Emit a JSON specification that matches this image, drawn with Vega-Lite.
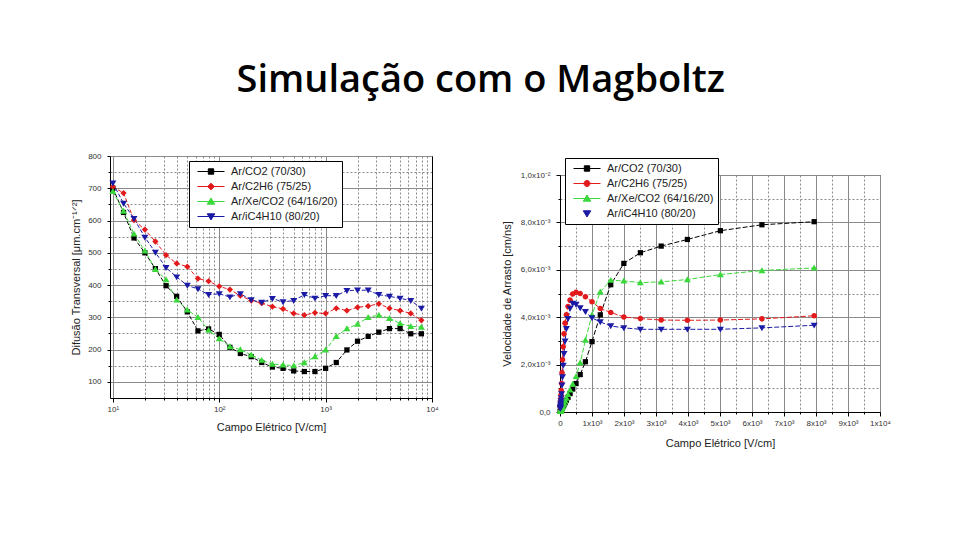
{
  "$schema": "https://vega.github.io/schema/vega-lite/v6.json",
  "background": "white",
  "padding": {"left": 70, "top": 62, "right": 5, "bottom": 5},
  "title": {"text": "Simulação com o Magboltz", "font": "Open Sans", "fontSize": 38, "fontWeight": 600, "color": "black", "anchor": "middle", "offset": 52},
  "config": {
    "view": {"stroke": null},
    "axis": {"labelFont": "Liberation Sans", "labelFontSize": 8, "labelColor": "#333", "titleFont": "Liberation Sans", "titleFontSize": 11, "titleFontWeight": "normal", "titleColor": "#222", "domainColor": "black", "tickColor": "black", "tickSize": 3, "labelOverlap": false, "labelFlush": false},
    "legend": {"labelFont": "Liberation Sans", "labelFontSize": 11, "labelColor": "#222", "symbolSize": 729, "symbolStrokeWidth": 1, "clipHeight": 13, "padding": 4, "symbolOffset": 4, "labelOffset": 6, "rowPadding": 2, "strokeColor": "black", "fillColor": "white"}
  },
  "resolve": {"scale": {"color": "independent", "shape": "independent", "fill": "independent", "stroke": "independent"}, "legend": {"color": "independent", "shape": "independent", "fill": "independent", "stroke": "independent"}},
  "spacing": 61,
  "hconcat": [
    {
      "width": 322,
      "height": 242,
      "view": {"stroke": null},
      "data": {"values": [
        {"gas":"Ar/CO2 (70/30)","E":10,"D":700},{"gas":"Ar/CO2 (70/30)","E":12.6,"D":625},{"gas":"Ar/CO2 (70/30)","E":15.8,"D":546},{"gas":"Ar/CO2 (70/30)","E":20,"D":500},{"gas":"Ar/CO2 (70/30)","E":25.1,"D":451},{"gas":"Ar/CO2 (70/30)","E":31.6,"D":398},{"gas":"Ar/CO2 (70/30)","E":39.8,"D":365},{"gas":"Ar/CO2 (70/30)","E":50.1,"D":317},{"gas":"Ar/CO2 (70/30)","E":63.1,"D":258},{"gas":"Ar/CO2 (70/30)","E":79.4,"D":264},{"gas":"Ar/CO2 (70/30)","E":100,"D":247},{"gas":"Ar/CO2 (70/30)","E":126,"D":207},{"gas":"Ar/CO2 (70/30)","E":158,"D":188},{"gas":"Ar/CO2 (70/30)","E":200,"D":178},{"gas":"Ar/CO2 (70/30)","E":251,"D":160},{"gas":"Ar/CO2 (70/30)","E":316,"D":146},{"gas":"Ar/CO2 (70/30)","E":398,"D":142},{"gas":"Ar/CO2 (70/30)","E":501,"D":134},{"gas":"Ar/CO2 (70/30)","E":631,"D":132},{"gas":"Ar/CO2 (70/30)","E":794,"D":132},{"gas":"Ar/CO2 (70/30)","E":1000,"D":142},{"gas":"Ar/CO2 (70/30)","E":1259,"D":160},{"gas":"Ar/CO2 (70/30)","E":1585,"D":199},{"gas":"Ar/CO2 (70/30)","E":1995,"D":226},{"gas":"Ar/CO2 (70/30)","E":2512,"D":241},{"gas":"Ar/CO2 (70/30)","E":3162,"D":254},{"gas":"Ar/CO2 (70/30)","E":3981,"D":265},{"gas":"Ar/CO2 (70/30)","E":5012,"D":265},{"gas":"Ar/CO2 (70/30)","E":6310,"D":249},{"gas":"Ar/CO2 (70/30)","E":7943,"D":249},
        {"gas":"Ar/C2H6 (75/25)","E":10,"D":705},{"gas":"Ar/C2H6 (75/25)","E":12.6,"D":685},{"gas":"Ar/C2H6 (75/25)","E":15.8,"D":601},{"gas":"Ar/C2H6 (75/25)","E":20,"D":572},{"gas":"Ar/C2H6 (75/25)","E":25.1,"D":535},{"gas":"Ar/C2H6 (75/25)","E":31.6,"D":493},{"gas":"Ar/C2H6 (75/25)","E":39.8,"D":467},{"gas":"Ar/C2H6 (75/25)","E":50.1,"D":457},{"gas":"Ar/C2H6 (75/25)","E":63.1,"D":420},{"gas":"Ar/C2H6 (75/25)","E":79.4,"D":412},{"gas":"Ar/C2H6 (75/25)","E":100,"D":396},{"gas":"Ar/C2H6 (75/25)","E":126,"D":386},{"gas":"Ar/C2H6 (75/25)","E":158,"D":367},{"gas":"Ar/C2H6 (75/25)","E":200,"D":352},{"gas":"Ar/C2H6 (75/25)","E":251,"D":344},{"gas":"Ar/C2H6 (75/25)","E":316,"D":333},{"gas":"Ar/C2H6 (75/25)","E":398,"D":326},{"gas":"Ar/C2H6 (75/25)","E":501,"D":312},{"gas":"Ar/C2H6 (75/25)","E":631,"D":307},{"gas":"Ar/C2H6 (75/25)","E":794,"D":314},{"gas":"Ar/C2H6 (75/25)","E":1000,"D":312},{"gas":"Ar/C2H6 (75/25)","E":1259,"D":328},{"gas":"Ar/C2H6 (75/25)","E":1585,"D":321},{"gas":"Ar/C2H6 (75/25)","E":1995,"D":331},{"gas":"Ar/C2H6 (75/25)","E":2512,"D":335},{"gas":"Ar/C2H6 (75/25)","E":3162,"D":342},{"gas":"Ar/C2H6 (75/25)","E":3981,"D":328},{"gas":"Ar/C2H6 (75/25)","E":5012,"D":321},{"gas":"Ar/C2H6 (75/25)","E":6310,"D":312},{"gas":"Ar/C2H6 (75/25)","E":7943,"D":291},
        {"gas":"Ar/Xe/CO2 (64/16/20)","E":10,"D":690},{"gas":"Ar/Xe/CO2 (64/16/20)","E":12.6,"D":629},{"gas":"Ar/Xe/CO2 (64/16/20)","E":15.8,"D":559},{"gas":"Ar/Xe/CO2 (64/16/20)","E":20,"D":506},{"gas":"Ar/Xe/CO2 (64/16/20)","E":25.1,"D":449},{"gas":"Ar/Xe/CO2 (64/16/20)","E":31.6,"D":417},{"gas":"Ar/Xe/CO2 (64/16/20)","E":39.8,"D":354},{"gas":"Ar/Xe/CO2 (64/16/20)","E":50.1,"D":323},{"gas":"Ar/Xe/CO2 (64/16/20)","E":63.1,"D":300},{"gas":"Ar/Xe/CO2 (64/16/20)","E":79.4,"D":260},{"gas":"Ar/Xe/CO2 (64/16/20)","E":100,"D":234},{"gas":"Ar/Xe/CO2 (64/16/20)","E":126,"D":209},{"gas":"Ar/Xe/CO2 (64/16/20)","E":158,"D":200},{"gas":"Ar/Xe/CO2 (64/16/20)","E":200,"D":184},{"gas":"Ar/Xe/CO2 (64/16/20)","E":251,"D":167},{"gas":"Ar/Xe/CO2 (64/16/20)","E":316,"D":155},{"gas":"Ar/Xe/CO2 (64/16/20)","E":398,"D":153},{"gas":"Ar/Xe/CO2 (64/16/20)","E":501,"D":150},{"gas":"Ar/Xe/CO2 (64/16/20)","E":631,"D":160},{"gas":"Ar/Xe/CO2 (64/16/20)","E":794,"D":178},{"gas":"Ar/Xe/CO2 (64/16/20)","E":1000,"D":199},{"gas":"Ar/Xe/CO2 (64/16/20)","E":1259,"D":241},{"gas":"Ar/Xe/CO2 (64/16/20)","E":1585,"D":265},{"gas":"Ar/Xe/CO2 (64/16/20)","E":1995,"D":279},{"gas":"Ar/Xe/CO2 (64/16/20)","E":2512,"D":300},{"gas":"Ar/Xe/CO2 (64/16/20)","E":3162,"D":307},{"gas":"Ar/Xe/CO2 (64/16/20)","E":3981,"D":297},{"gas":"Ar/Xe/CO2 (64/16/20)","E":5012,"D":281},{"gas":"Ar/Xe/CO2 (64/16/20)","E":6310,"D":272},{"gas":"Ar/Xe/CO2 (64/16/20)","E":7943,"D":270},
        {"gas":"Ar/iC4H10 (80/20)","E":10,"D":716},{"gas":"Ar/iC4H10 (80/20)","E":12.6,"D":653},{"gas":"Ar/iC4H10 (80/20)","E":15.8,"D":606},{"gas":"Ar/iC4H10 (80/20)","E":20,"D":548},{"gas":"Ar/iC4H10 (80/20)","E":25.1,"D":501},{"gas":"Ar/iC4H10 (80/20)","E":31.6,"D":454},{"gas":"Ar/iC4H10 (80/20)","E":39.8,"D":425},{"gas":"Ar/iC4H10 (80/20)","E":50.1,"D":399},{"gas":"Ar/iC4H10 (80/20)","E":63.1,"D":388},{"gas":"Ar/iC4H10 (80/20)","E":79.4,"D":370},{"gas":"Ar/iC4H10 (80/20)","E":100,"D":373},{"gas":"Ar/iC4H10 (80/20)","E":126,"D":363},{"gas":"Ar/iC4H10 (80/20)","E":158,"D":373},{"gas":"Ar/iC4H10 (80/20)","E":200,"D":354},{"gas":"Ar/iC4H10 (80/20)","E":251,"D":346},{"gas":"Ar/iC4H10 (80/20)","E":316,"D":358},{"gas":"Ar/iC4H10 (80/20)","E":398,"D":348},{"gas":"Ar/iC4H10 (80/20)","E":501,"D":352},{"gas":"Ar/iC4H10 (80/20)","E":631,"D":370},{"gas":"Ar/iC4H10 (80/20)","E":794,"D":359},{"gas":"Ar/iC4H10 (80/20)","E":1000,"D":367},{"gas":"Ar/iC4H10 (80/20)","E":1259,"D":367},{"gas":"Ar/iC4H10 (80/20)","E":1585,"D":383},{"gas":"Ar/iC4H10 (80/20)","E":1995,"D":384},{"gas":"Ar/iC4H10 (80/20)","E":2512,"D":384},{"gas":"Ar/iC4H10 (80/20)","E":3162,"D":370},{"gas":"Ar/iC4H10 (80/20)","E":3981,"D":365},{"gas":"Ar/iC4H10 (80/20)","E":5012,"D":359},{"gas":"Ar/iC4H10 (80/20)","E":6310,"D":352},{"gas":"Ar/iC4H10 (80/20)","E":7943,"D":328}
      ]},
      "encoding": {
        "x": {"field": "E", "type": "quantitative", "scale": {"type": "log", "domain": [9.4, 10000], "nice": false},
          "axis": {"title": "Campo Elétrico [V/cm]", "values": [10,20,30,40,50,60,70,80,90,100,200,300,400,500,600,700,800,900,1000,2000,3000,4000,5000,6000,7000,8000,9000,10000],
            "labelExpr": "datum.value==10?'10¹':datum.value==100?'10²':datum.value==1000?'10³':datum.value==10000?'10⁴':''",
            "grid": true,
            "gridDash": {"condition": {"test": "indexof([10,100,1000,10000], datum.value) < 0", "value": [2, 2]}, "value": []},
            "gridColor": "#8a8a8a",
            "tickSize": {"condition": {"test": "indexof([10,100,1000,10000], datum.value) < 0", "value": 2}, "value": 4},
            "labelPadding": 3, "titlePadding": 8}}
      },
      "layer": [
        {
          "encoding": {
            "y": {"field": "D", "type": "quantitative", "scale": {"domain": [50, 800], "nice": false},
              "axis": {"title": "Difusão Transversal [μm.cm⁻¹ᐟ²]", "values": [100,150,200,250,300,350,400,450,500,550,600,650,700,750,800],
                "labelExpr": "datum.value % 100 == 0 ? datum.value : ''",
                "grid": true,
                "gridDash": {"condition": {"test": "datum.value % 100 != 0", "value": [2, 2]}, "value": []},
                "gridColor": "#8a8a8a",
                "tickSize": {"condition": {"test": "datum.value % 100 != 0", "value": 2}, "value": 3},
                "labelPadding": 6, "titlePadding": 6}}
          },
          "layer": [
            {
              "mark": {"type": "line", "strokeWidth": 1, "strokeDash": [4, 2]},
              "encoding": {
                "color": {"field": "gas", "type": "nominal", "scale": {"domain": ["Ar/CO2 (70/30)", "Ar/C2H6 (75/25)", "Ar/Xe/CO2 (64/16/20)", "Ar/iC4H10 (80/20)"], "range": ["#000000", "#e31a1c", "#3bd83b", "#1a1aa6"]}, "legend": null}
              }
            },
            {"transform": [{"filter": "datum.gas == 'Ar/CO2 (70/30)'"}], "mark": {"type": "point", "filled": true, "opacity": 1, "size": 49, "color": "#000000", "shape": "M-0.75,-0.75H0.75V0.75H-0.75Z"}},
            {"transform": [{"filter": "datum.gas == 'Ar/C2H6 (75/25)'"}], "mark": {"type": "point", "filled": true, "opacity": 1, "size": 49, "color": "#e31a1c", "shape": "M0,-0.9L0.9,0L0,0.9L-0.9,0Z"}},
            {"transform": [{"filter": "datum.gas == 'Ar/Xe/CO2 (64/16/20)'"}], "mark": {"type": "point", "filled": true, "opacity": 1, "size": 49, "color": "#3bd83b", "shape": "M0,-0.95L1,0.75H-1Z"}},
            {"transform": [{"filter": "datum.gas == 'Ar/iC4H10 (80/20)'"}], "mark": {"type": "point", "filled": true, "opacity": 1, "size": 49, "color": "#1a1aa6", "shape": "M0,0.95L1,-0.75H-1Z"}},
            {
              "transform": [{"filter": "false"}],
              "mark": {"type": "point", "filled": true, "opacity": 1},
              "encoding": {
                "fill": {"field": "gas", "type": "nominal", "scale": {"domain": ["Ar/CO2 (70/30)", "Ar/C2H6 (75/25)", "Ar/Xe/CO2 (64/16/20)", "Ar/iC4H10 (80/20)"], "range": ["#000000", "#e31a1c", "#3bd83b", "#1a1aa6"]},
                  "legend": {"title": null, "orient": "none", "legendX": 79, "legendY": 5}},
                "stroke": {"field": "gas", "type": "nominal", "scale": {"domain": ["Ar/CO2 (70/30)", "Ar/C2H6 (75/25)", "Ar/Xe/CO2 (64/16/20)", "Ar/iC4H10 (80/20)"], "range": ["#000000", "#e31a1c", "#3bd83b", "#1a1aa6"]},
                  "legend": {"title": null, "orient": "none", "legendX": 79, "legendY": 5}},
                "shape": {"field": "gas", "type": "nominal", "scale": {"domain": ["Ar/CO2 (70/30)", "Ar/C2H6 (75/25)", "Ar/Xe/CO2 (64/16/20)", "Ar/iC4H10 (80/20)"], "range": ["M-1,0H1M-0.2,-0.2H0.2V0.2H-0.2Z", "M-1,0H1M0,-0.25L0.25,0L0,0.25L-0.25,0Z", "M-1,0H1M0,-0.26L0.28,0.2H-0.28Z", "M-1,0H1M0,0.26L0.28,-0.2H-0.28Z"]},
                  "legend": {"title": null, "orient": "none", "legendX": 79, "legendY": 5}}
              }
            }
          ],
          "resolve": {"scale": {"fill": "independent", "stroke": "independent", "shape": "independent"}, "legend": {"fill": "independent", "stroke": "independent", "shape": "independent"}}
        },
        {
          "transform": [{"filter": "false"}],
          "mark": {"type": "point"},
          "encoding": {
            "y": {"field": "D", "type": "quantitative", "scale": {"domain": [50, 800], "nice": false},
              "axis": {"orient": "right", "labels": false, "ticks": false, "grid": false, "title": null, "domainColor": "black"}}
          }
        }
      ],
      "resolve": {"axis": {"y": "independent"}}
    },
    {
      "spacing": 0,
      "vconcat": [
        {
          "width": 320,
          "height": 1,
          "data": {"values": []},
          "mark": {"type": "point"},
          "view": {"stroke": null}
        },
        {
          "width": 320,
          "height": 237,
          "view": {"stroke": "black", "strokeWidth": 1},
          "data": {"values": [
            {"gas":"Ar/CO2 (70/30)","E":10,"v":0.000025},{"gas":"Ar/CO2 (70/30)","E":12.6,"v":0.000032},{"gas":"Ar/CO2 (70/30)","E":15.8,"v":0.00004},{"gas":"Ar/CO2 (70/30)","E":20,"v":0.00005},{"gas":"Ar/CO2 (70/30)","E":25.1,"v":0.000063},{"gas":"Ar/CO2 (70/30)","E":31.6,"v":0.00008},{"gas":"Ar/CO2 (70/30)","E":39.8,"v":0.0001},{"gas":"Ar/CO2 (70/30)","E":50.1,"v":0.000125},{"gas":"Ar/CO2 (70/30)","E":63.1,"v":0.00016},{"gas":"Ar/CO2 (70/30)","E":79.4,"v":0.0002},{"gas":"Ar/CO2 (70/30)","E":100,"v":0.00025},{"gas":"Ar/CO2 (70/30)","E":126,"v":0.00031},{"gas":"Ar/CO2 (70/30)","E":158,"v":0.00039},{"gas":"Ar/CO2 (70/30)","E":200,"v":0.0005},{"gas":"Ar/CO2 (70/30)","E":251,"v":0.00062},{"gas":"Ar/CO2 (70/30)","E":316,"v":0.00078},{"gas":"Ar/CO2 (70/30)","E":398,"v":0.00097},{"gas":"Ar/CO2 (70/30)","E":501,"v":0.0012},{"gas":"Ar/CO2 (70/30)","E":631,"v":0.00158},{"gas":"Ar/CO2 (70/30)","E":794,"v":0.00212},{"gas":"Ar/CO2 (70/30)","E":1000,"v":0.00297},{"gas":"Ar/CO2 (70/30)","E":1259,"v":0.0041},{"gas":"Ar/CO2 (70/30)","E":1585,"v":0.00537},{"gas":"Ar/CO2 (70/30)","E":1995,"v":0.00627},{"gas":"Ar/CO2 (70/30)","E":2512,"v":0.00672},{"gas":"Ar/CO2 (70/30)","E":3162,"v":0.007},{"gas":"Ar/CO2 (70/30)","E":3981,"v":0.00728},{"gas":"Ar/CO2 (70/30)","E":5012,"v":0.00765},{"gas":"Ar/CO2 (70/30)","E":6310,"v":0.0079},{"gas":"Ar/CO2 (70/30)","E":7943,"v":0.00803},
            {"gas":"Ar/C2H6 (75/25)","E":10,"v":0.0002},{"gas":"Ar/C2H6 (75/25)","E":12.6,"v":0.00026},{"gas":"Ar/C2H6 (75/25)","E":15.8,"v":0.00034},{"gas":"Ar/C2H6 (75/25)","E":20,"v":0.00044},{"gas":"Ar/C2H6 (75/25)","E":25.1,"v":0.00057},{"gas":"Ar/C2H6 (75/25)","E":31.6,"v":0.00072},{"gas":"Ar/C2H6 (75/25)","E":39.8,"v":0.0009},{"gas":"Ar/C2H6 (75/25)","E":50.1,"v":0.0012},{"gas":"Ar/C2H6 (75/25)","E":63.1,"v":0.00165},{"gas":"Ar/C2H6 (75/25)","E":79.4,"v":0.0022},{"gas":"Ar/C2H6 (75/25)","E":100,"v":0.00275},{"gas":"Ar/C2H6 (75/25)","E":126,"v":0.0033},{"gas":"Ar/C2H6 (75/25)","E":158,"v":0.00375},{"gas":"Ar/C2H6 (75/25)","E":200,"v":0.0041},{"gas":"Ar/C2H6 (75/25)","E":251,"v":0.00445},{"gas":"Ar/C2H6 (75/25)","E":316,"v":0.00472},{"gas":"Ar/C2H6 (75/25)","E":398,"v":0.00498},{"gas":"Ar/C2H6 (75/25)","E":501,"v":0.00505},{"gas":"Ar/C2H6 (75/25)","E":631,"v":0.005},{"gas":"Ar/C2H6 (75/25)","E":794,"v":0.00486},{"gas":"Ar/C2H6 (75/25)","E":1000,"v":0.00465},{"gas":"Ar/C2H6 (75/25)","E":1259,"v":0.00437},{"gas":"Ar/C2H6 (75/25)","E":1585,"v":0.0042},{"gas":"Ar/C2H6 (75/25)","E":1995,"v":0.00401},{"gas":"Ar/C2H6 (75/25)","E":2512,"v":0.00394},{"gas":"Ar/C2H6 (75/25)","E":3162,"v":0.00388},{"gas":"Ar/C2H6 (75/25)","E":3981,"v":0.00387},{"gas":"Ar/C2H6 (75/25)","E":5012,"v":0.00388},{"gas":"Ar/C2H6 (75/25)","E":6310,"v":0.00393},{"gas":"Ar/C2H6 (75/25)","E":7943,"v":0.00406},
            {"gas":"Ar/Xe/CO2 (64/16/20)","E":10,"v":0.00003},{"gas":"Ar/Xe/CO2 (64/16/20)","E":12.6,"v":0.000038},{"gas":"Ar/Xe/CO2 (64/16/20)","E":15.8,"v":0.000048},{"gas":"Ar/Xe/CO2 (64/16/20)","E":20,"v":0.00006},{"gas":"Ar/Xe/CO2 (64/16/20)","E":25.1,"v":0.000075},{"gas":"Ar/Xe/CO2 (64/16/20)","E":31.6,"v":0.000095},{"gas":"Ar/Xe/CO2 (64/16/20)","E":39.8,"v":0.00012},{"gas":"Ar/Xe/CO2 (64/16/20)","E":50.1,"v":0.00015},{"gas":"Ar/Xe/CO2 (64/16/20)","E":63.1,"v":0.00019},{"gas":"Ar/Xe/CO2 (64/16/20)","E":79.4,"v":0.00024},{"gas":"Ar/Xe/CO2 (64/16/20)","E":100,"v":0.0003},{"gas":"Ar/Xe/CO2 (64/16/20)","E":126,"v":0.00037},{"gas":"Ar/Xe/CO2 (64/16/20)","E":158,"v":0.00047},{"gas":"Ar/Xe/CO2 (64/16/20)","E":200,"v":0.00059},{"gas":"Ar/Xe/CO2 (64/16/20)","E":251,"v":0.00074},{"gas":"Ar/Xe/CO2 (64/16/20)","E":316,"v":0.00093},{"gas":"Ar/Xe/CO2 (64/16/20)","E":398,"v":0.00118},{"gas":"Ar/Xe/CO2 (64/16/20)","E":501,"v":0.0015},{"gas":"Ar/Xe/CO2 (64/16/20)","E":631,"v":0.00208},{"gas":"Ar/Xe/CO2 (64/16/20)","E":794,"v":0.00303},{"gas":"Ar/Xe/CO2 (64/16/20)","E":1000,"v":0.0041},{"gas":"Ar/Xe/CO2 (64/16/20)","E":1259,"v":0.00507},{"gas":"Ar/Xe/CO2 (64/16/20)","E":1585,"v":0.00556},{"gas":"Ar/Xe/CO2 (64/16/20)","E":1995,"v":0.00553},{"gas":"Ar/Xe/CO2 (64/16/20)","E":2512,"v":0.00546},{"gas":"Ar/Xe/CO2 (64/16/20)","E":3162,"v":0.00549},{"gas":"Ar/Xe/CO2 (64/16/20)","E":3981,"v":0.00559},{"gas":"Ar/Xe/CO2 (64/16/20)","E":5012,"v":0.0058},{"gas":"Ar/Xe/CO2 (64/16/20)","E":6310,"v":0.00597},{"gas":"Ar/Xe/CO2 (64/16/20)","E":7943,"v":0.00608},
            {"gas":"Ar/iC4H10 (80/20)","E":10,"v":0.00014},{"gas":"Ar/iC4H10 (80/20)","E":12.6,"v":0.00018},{"gas":"Ar/iC4H10 (80/20)","E":15.8,"v":0.00023},{"gas":"Ar/iC4H10 (80/20)","E":20,"v":0.0003},{"gas":"Ar/iC4H10 (80/20)","E":25.1,"v":0.00037},{"gas":"Ar/iC4H10 (80/20)","E":31.6,"v":0.00047},{"gas":"Ar/iC4H10 (80/20)","E":39.8,"v":0.0006},{"gas":"Ar/iC4H10 (80/20)","E":50.1,"v":0.00077},{"gas":"Ar/iC4H10 (80/20)","E":63.1,"v":0.00113},{"gas":"Ar/iC4H10 (80/20)","E":79.4,"v":0.00148},{"gas":"Ar/iC4H10 (80/20)","E":100,"v":0.00197},{"gas":"Ar/iC4H10 (80/20)","E":126,"v":0.00246},{"gas":"Ar/iC4H10 (80/20)","E":158,"v":0.00299},{"gas":"Ar/iC4H10 (80/20)","E":200,"v":0.00352},{"gas":"Ar/iC4H10 (80/20)","E":251,"v":0.00394},{"gas":"Ar/iC4H10 (80/20)","E":316,"v":0.00437},{"gas":"Ar/iC4H10 (80/20)","E":398,"v":0.00458},{"gas":"Ar/iC4H10 (80/20)","E":501,"v":0.00454},{"gas":"Ar/iC4H10 (80/20)","E":631,"v":0.00439},{"gas":"Ar/iC4H10 (80/20)","E":794,"v":0.00423},{"gas":"Ar/iC4H10 (80/20)","E":1000,"v":0.00397},{"gas":"Ar/iC4H10 (80/20)","E":1259,"v":0.0038},{"gas":"Ar/iC4H10 (80/20)","E":1585,"v":0.00363},{"gas":"Ar/iC4H10 (80/20)","E":1995,"v":0.00355},{"gas":"Ar/iC4H10 (80/20)","E":2512,"v":0.00349},{"gas":"Ar/iC4H10 (80/20)","E":3162,"v":0.00349},{"gas":"Ar/iC4H10 (80/20)","E":3981,"v":0.00349},{"gas":"Ar/iC4H10 (80/20)","E":5012,"v":0.00349},{"gas":"Ar/iC4H10 (80/20)","E":6310,"v":0.00355},{"gas":"Ar/iC4H10 (80/20)","E":7943,"v":0.00366}
          ]},
          "encoding": {
            "x": {"field": "E", "type": "quantitative", "scale": {"domain": [0, 10000], "nice": false},
              "axis": {"title": "Campo Elétrico [V/cm]", "values": [0,500,1000,1500,2000,2500,3000,3500,4000,4500,5000,5500,6000,6500,7000,7500,8000,8500,9000,9500,10000],
                "labelExpr": "datum.value==0?'0':datum.value % 1000 != 0?'':datum.value==10000?'1x10⁴':(datum.value/1000)+'x10³'",
                "grid": true,
                "gridDash": {"condition": {"test": "datum.value % 1000 != 0", "value": [2, 2]}, "value": []},
                "gridColor": "#8a8a8a",
                "tickSize": {"condition": {"test": "datum.value % 1000 != 0", "value": 2}, "value": 4},
                "labelPadding": 3, "titlePadding": 10}},
            "y": {"field": "v", "type": "quantitative", "scale": {"domain": [0, 0.01], "nice": false},
              "axis": {"title": "Velocidade de Arrasto [cm/ns]", "values": [0,0.001,0.002,0.003,0.004,0.005,0.006,0.007,0.008,0.009,0.01],
                "labelExpr": "datum.value==0?'0,0':datum.value==0.002?'2,0x10⁻³':datum.value==0.004?'4,0x10⁻³':datum.value==0.006?'6,0x10⁻³':datum.value==0.008?'8,0x10⁻³':datum.value==0.01?'1,0x10⁻²':''",
                "grid": true,
                "gridDash": {"condition": {"test": "indexof([0.001,0.003,0.005,0.007,0.009], datum.value) >= 0", "value": [2, 2]}, "value": []},
                "gridColor": "#8a8a8a",
                "tickSize": {"condition": {"test": "indexof([0.001,0.003,0.005,0.007,0.009], datum.value) >= 0", "value": 2}, "value": 4},
                "labelPadding": 6, "titlePadding": 8}}
          },
          "layer": [
            {
              "mark": {"type": "line", "strokeWidth": 1, "strokeDash": [5, 2]},
              "encoding": {
                "color": {"field": "gas", "type": "nominal", "scale": {"domain": ["Ar/CO2 (70/30)", "Ar/C2H6 (75/25)", "Ar/Xe/CO2 (64/16/20)", "Ar/iC4H10 (80/20)"], "range": ["#000000", "#e31a1c", "#3bd83b", "#1a1aa6"]}, "legend": null}
              }
            },
            {"transform": [{"filter": "datum.gas == 'Ar/CO2 (70/30)'"}], "mark": {"type": "point", "filled": true, "opacity": 1, "size": 49, "color": "#000000", "shape": "M-0.75,-0.75H0.75V0.75H-0.75Z"}},
            {"transform": [{"filter": "datum.gas == 'Ar/C2H6 (75/25)'"}], "mark": {"type": "point", "filled": true, "opacity": 1, "size": 49, "color": "#e31a1c", "shape": "M0.8,0A0.8,0.8,0,1,1,-0.8,0A0.8,0.8,0,1,1,0.8,0Z"}},
            {"transform": [{"filter": "datum.gas == 'Ar/Xe/CO2 (64/16/20)'"}], "mark": {"type": "point", "filled": true, "opacity": 1, "size": 49, "color": "#3bd83b", "shape": "M0,-0.95L1,0.75H-1Z"}},
            {"transform": [{"filter": "datum.gas == 'Ar/iC4H10 (80/20)'"}], "mark": {"type": "point", "filled": true, "opacity": 1, "size": 49, "color": "#1a1aa6", "shape": "M0,0.95L1,-0.75H-1Z"}},
            {
              "transform": [{"filter": "false"}],
              "mark": {"type": "point", "filled": true, "opacity": 1},
              "encoding": {
                "fill": {"field": "gas", "type": "nominal", "scale": {"domain": ["Ar/CO2 (70/30)", "Ar/C2H6 (75/25)", "Ar/Xe/CO2 (64/16/20)", "Ar/iC4H10 (80/20)"], "range": ["#000000", "#e31a1c", "#3bd83b", "#1a1aa6"]},
                  "legend": {"title": null, "orient": "none", "legendX": 5, "legendY": -17}},
                "stroke": {"field": "gas", "type": "nominal", "scale": {"domain": ["Ar/CO2 (70/30)", "Ar/C2H6 (75/25)", "Ar/Xe/CO2 (64/16/20)", "Ar/iC4H10 (80/20)"], "range": ["#000000", "#e31a1c", "#3bd83b", "#1a1aa6"]},
                  "legend": {"title": null, "orient": "none", "legendX": 5, "legendY": -17}},
                "shape": {"field": "gas", "type": "nominal", "scale": {"domain": ["Ar/CO2 (70/30)", "Ar/C2H6 (75/25)", "Ar/Xe/CO2 (64/16/20)", "Ar/iC4H10 (80/20)"], "range": ["M-1,0H1M-0.2,-0.2H0.2V0.2H-0.2Z", "M-1,0H1M0.22,0A0.22,0.22,0,1,1,-0.22,0A0.22,0.22,0,1,1,0.22,0Z", "M-1,0H1M0,-0.26L0.28,0.2H-0.28Z", "M0,0.26L0.28,-0.2H-0.28Z"]},
                  "legend": {"title": null, "orient": "none", "legendX": 5, "legendY": -17}}
              }
            }
          ],
          "resolve": {"scale": {"fill": "independent", "stroke": "independent", "shape": "independent"}, "legend": {"fill": "independent", "stroke": "independent", "shape": "independent"}}
        }
      ]
    }
  ]
}
